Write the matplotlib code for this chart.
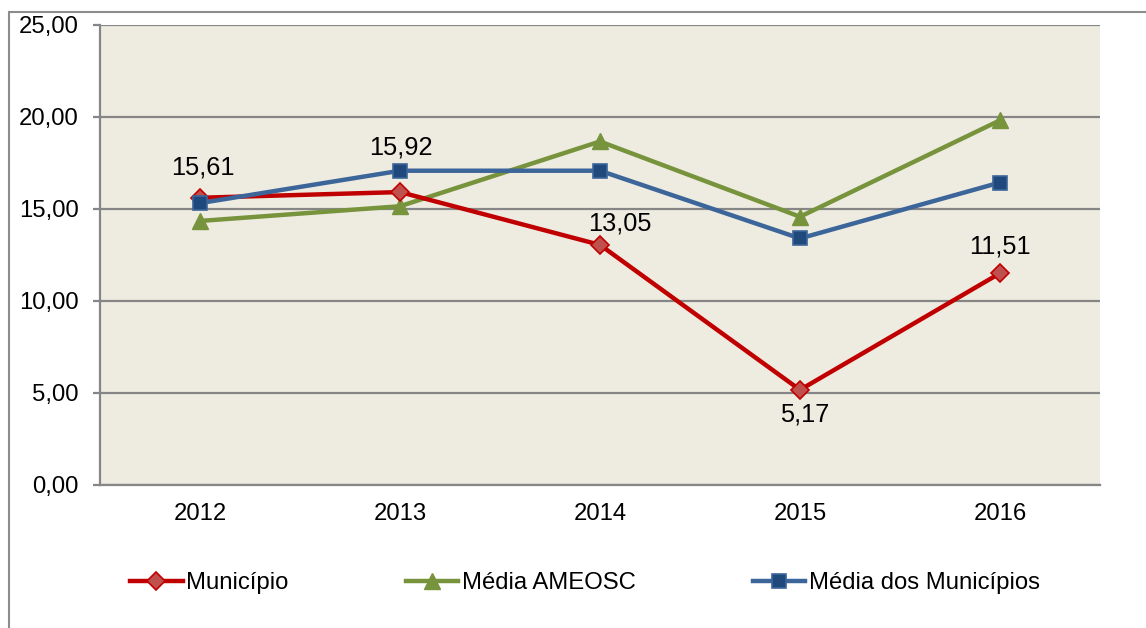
import matplotlib
matplotlib.use("Agg")
import matplotlib.pyplot as plt
from matplotlib.patches import Rectangle

years = ["2012", "2013", "2014", "2015", "2016"]
municipio = [15.61, 15.92, 13.05, 5.17, 11.51]
media_ameosc = [14.35, 15.15, 18.67, 14.58, 19.82]
media_municipios = [15.32, 17.08, 17.08, 13.40, 16.44]
yticks = [0, 5, 10, 15, 20, 25]

plt.rcParams['font.family'] = ['Liberation Sans', 'DejaVu Sans']

W, H = 1146, 628
fig = plt.figure(figsize=(W / 100, H / 100), dpi=100)
ax = fig.add_axes([100 / W, (H - 485) / H, 1000 / W, 460 / H])
ax.set_facecolor('#EEECE1')

x = list(range(len(years)))

ax.plot(x, municipio, color='#C00000', lw=3.2, marker='D', ms=9.5,
        mfc='#C0504D', mec='#C00000', mew=1.2, zorder=5, label='Município')
ax.plot(x, media_ameosc, color='#77933C', lw=3.2, marker='^', ms=11,
        mfc='#77933C', mec='#77933C', mew=1, zorder=4, label='Média AMEOSC')
ax.plot(x, media_municipios, color='#3C6599', lw=3.2, marker='s', ms=10,
        mfc='#1F497D', mec='#3C6599', mew=1.2, zorder=6, label='Média dos Municípios')

# data labels (offsets in pixels)
offsets = [(3, 30), (1, 45), (20, 21), (5, -25), (0, 27)]
for xi, v, off in zip(x, municipio, offsets):
    ax.annotate(f"{v:.2f}".replace('.', ','), (xi, v), xytext=off,
                textcoords='offset pixels', ha='center', va='center',
                fontsize=18.3, color='black', zorder=10)

ax.set_xlim(-0.5, len(years) - 0.5)
ax.set_ylim(0, 25)
ax.set_yticks(yticks)
ax.set_yticklabels([f"{t:.2f}".replace('.', ',') for t in yticks], fontsize=17.2)
ax.set_xticks(x)
ax.set_xticklabels(years, fontsize=17.2)
ax.yaxis.grid(True, color='#868686', lw=1.6)
ax.set_axisbelow(True)
ax.tick_params(axis='y', length=5, width=1.6, color='#868686', pad=10.5)
ax.tick_params(axis='x', length=0, pad=13)
for s in ['top', 'right']:
    ax.spines[s].set_visible(False)
for s in ['left', 'bottom']:
    ax.spines[s].set_color('#868686')
    ax.spines[s].set_linewidth(1.6)

# outer chart border
fig.patches.append(Rectangle((8.5 / W, -0.2), 1.5, 1.2 - 11.7 / H,
                             transform=fig.transFigure, fill=False,
                             edgecolor='#8C8C8C', lw=1.5))

leg = fig.legend(loc='center left', bbox_to_anchor=(130 / W, (H - 583) / H),
                 ncol=3, frameon=False, fontsize=17.2, handlelength=2.2,
                 handletextpad=0.15, columnspacing=4.9, borderpad=0,
                 borderaxespad=0)

fig.savefig('out.png', dpi=100)
